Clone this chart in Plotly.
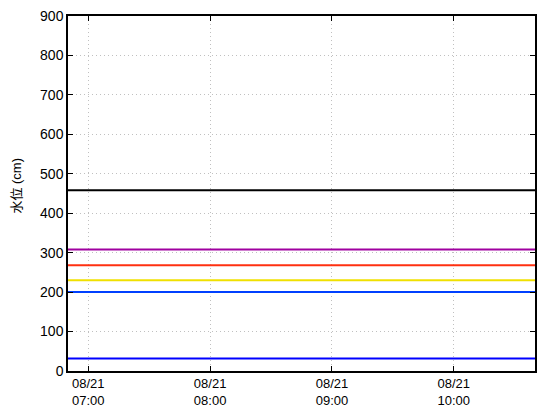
import plotly.graph_objects as go

times = ["2024-08-21 06:50", "2024-08-21 10:40"]
levels = [458, 308, 268, 230, 200, 32]
colors = ["#000000", "#a000a0", "#ff3010", "#f0e000", "#0040ff", "#0000ff"]
tick_vals = ["2024-08-21 07:00", "2024-08-21 08:00", "2024-08-21 09:00", "2024-08-21 10:00"]
tick_text = ["08/21<br>07:00", "08/21<br>08:00", "08/21<br>09:00", "08/21<br>10:00"]
y_ticks = [0, 100, 200, 300, 400, 500, 600, 700, 800, 900]
y_title = "水位 (cm)"

fig = go.Figure()
for lv, c in zip(levels, colors):
    fig.add_trace(go.Scatter(x=times, y=[lv, lv], mode="lines",
                             line=dict(color=c, width=2), showlegend=False,
                             hoverinfo="skip"))

tick_fam = "Liberation Sans, DejaVu Sans"
title_fam = "Liberation Sans, Noto Sans CJK JP"
yfont = dict(family=tick_fam, size=14, color="#000000")
xfont = dict(family=tick_fam, size=13, color="#000000")
fig.update_layout(
    width=544, height=404,
    margin=dict(l=60, r=17, t=8, b=41, autoexpand=False),
    paper_bgcolor="white", plot_bgcolor="white",
    font=yfont,
    xaxis=dict(type="date", range=times, tickvals=tick_vals, ticktext=tick_text,
               showline=True, linecolor="black", linewidth=1.5, mirror="ticks",
               ticks="inside", ticklen=5, tickcolor="black",
               showgrid=True, gridcolor="#c0c0c0", griddash="1px,3px", gridwidth=1,
               zeroline=False, tickfont=xfont, automargin=False,
               ticklabeloverflow="allow"),
    yaxis=dict(range=[0, 900], tickvals=y_ticks,
               showline=True, linecolor="black", linewidth=1.5, mirror="ticks",
               ticks="inside", ticklen=5, tickcolor="black",
               showgrid=True, gridcolor="#c0c0c0", griddash="1px,3px", gridwidth=1,
               zeroline=False, tickfont=yfont, automargin=False,
               ticklabeloverflow="allow"),
    annotations=[dict(text=y_title, textangle=-90, xref="paper", yref="y",
                      x=0, y=470, xanchor="center", yanchor="middle",
                      xshift=-51, showarrow=False,
                      font=dict(family=title_fam, size=13, color="#000000"))],
)
fig.write_html("out.html")
